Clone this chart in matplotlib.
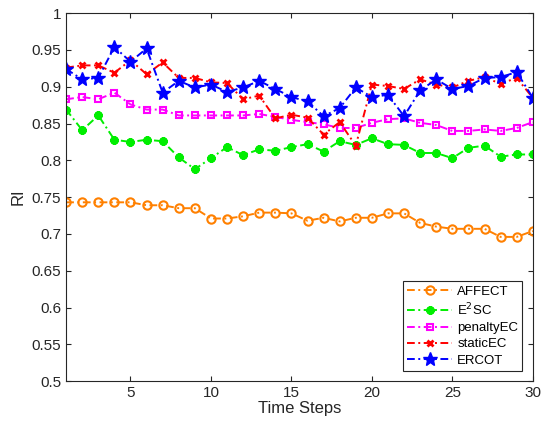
import numpy as np
import matplotlib
matplotlib.use('Agg')
import matplotlib.pyplot as plt

steps = list(range(1, 31))

affect = [0.743, 0.743, 0.743, 0.743, 0.743, 0.739, 0.739, 0.735, 0.735, 0.721,
          0.721, 0.724, 0.729, 0.729, 0.728, 0.718, 0.722, 0.717, 0.722, 0.722,
          0.728, 0.728, 0.715, 0.710, 0.707, 0.707, 0.707, 0.696, 0.696, 0.704]
e2sc = [0.869, 0.841, 0.861, 0.828, 0.825, 0.828, 0.826, 0.804, 0.788, 0.803,
        0.818, 0.807, 0.815, 0.813, 0.818, 0.822, 0.812, 0.826, 0.821, 0.830,
        0.822, 0.821, 0.810, 0.810, 0.803, 0.817, 0.820, 0.805, 0.808, 0.808]
penalty_ec = [0.883, 0.886, 0.883, 0.892, 0.876, 0.869, 0.869, 0.861, 0.861, 0.861,
              0.861, 0.861, 0.863, 0.859, 0.855, 0.852, 0.849, 0.844, 0.844, 0.851,
              0.856, 0.857, 0.851, 0.848, 0.840, 0.840, 0.842, 0.840, 0.844, 0.852]
static_ec = [0.926, 0.929, 0.929, 0.919, 0.936, 0.917, 0.933, 0.912, 0.912, 0.906,
             0.905, 0.883, 0.888, 0.857, 0.862, 0.858, 0.835, 0.852, 0.820, 0.903,
             0.901, 0.897, 0.910, 0.903, 0.899, 0.908, 0.913, 0.904, 0.912, 0.885]
ercot = [0.924, 0.910, 0.912, 0.954, 0.934, 0.952, 0.892, 0.908, 0.899, 0.903,
         0.893, 0.899, 0.908, 0.897, 0.886, 0.880, 0.860, 0.871, 0.899, 0.886,
         0.889, 0.860, 0.895, 0.910, 0.897, 0.901, 0.912, 0.913, 0.920, 0.885]

plt.rcParams['font.family'] = ['Liberation Sans', 'DejaVu Sans']

fig = plt.figure(figsize=(5.42, 4.24), dpi=100)
ax = fig.add_axes([0.122, 0.101, 0.861, 0.868])

lw = 1.4
dash = (0, (4, 1.8, 1, 1.8))
ax.plot(steps, affect, linestyle=dash, color='#ff8000', lw=lw, marker='o',
        ms=6, mfc='none', mew=1.5, label='AFFECT')
ax.plot(steps, e2sc, linestyle=dash, color='#00ee00', lw=lw, marker=(8, 2, 0),
        ms=6, mew=2, label='E$^2$SC')
ax.plot(steps, penalty_ec, linestyle=dash, color='#ff00ff', lw=lw, marker='s',
        ms=5, mfc='none', mew=1.5, label='penaltyEC')
ax.plot(steps, static_ec, linestyle=dash, color='#ff0000', lw=lw, marker='x',
        ms=5, mew=2, label='staticEC')
ax.plot(steps, ercot, linestyle=dash, color='#0000ff', lw=lw, marker='*',
        ms=10, label='ERCOT')

ax.set_xlim(1, 30)
ax.set_ylim(0.5, 1)
ax.set_xticks([5, 10, 15, 20, 25, 30])
ax.set_yticks(np.arange(0.5, 1.0001, 0.05))
ax.set_yticklabels(['0.5', '0.55', '0.6', '0.65', '0.7', '0.75', '0.8',
                    '0.85', '0.9', '0.95', '1'])
ax.tick_params(direction='in', top=True, right=True, labelsize=11,
               color='#262626', labelcolor='#262626')
for s in ax.spines.values():
    s.set_color('#262626')
    s.set_linewidth(0.8)

ax.set_xlabel('Time Steps', fontsize=12, color='#262626', labelpad=1)
ax.set_ylabel('RI', fontsize=12, color='#262626', labelpad=4)

leg = ax.legend(loc='lower right', fontsize=9.5, fancybox=False,
                edgecolor='#262626', framealpha=1, borderpad=0.3,
                labelspacing=0.3, handlelength=3.4, handletextpad=0.4,
                borderaxespad=0.8)
leg.get_frame().set_linewidth(0.8)

fig.savefig('out.png', dpi=100)
